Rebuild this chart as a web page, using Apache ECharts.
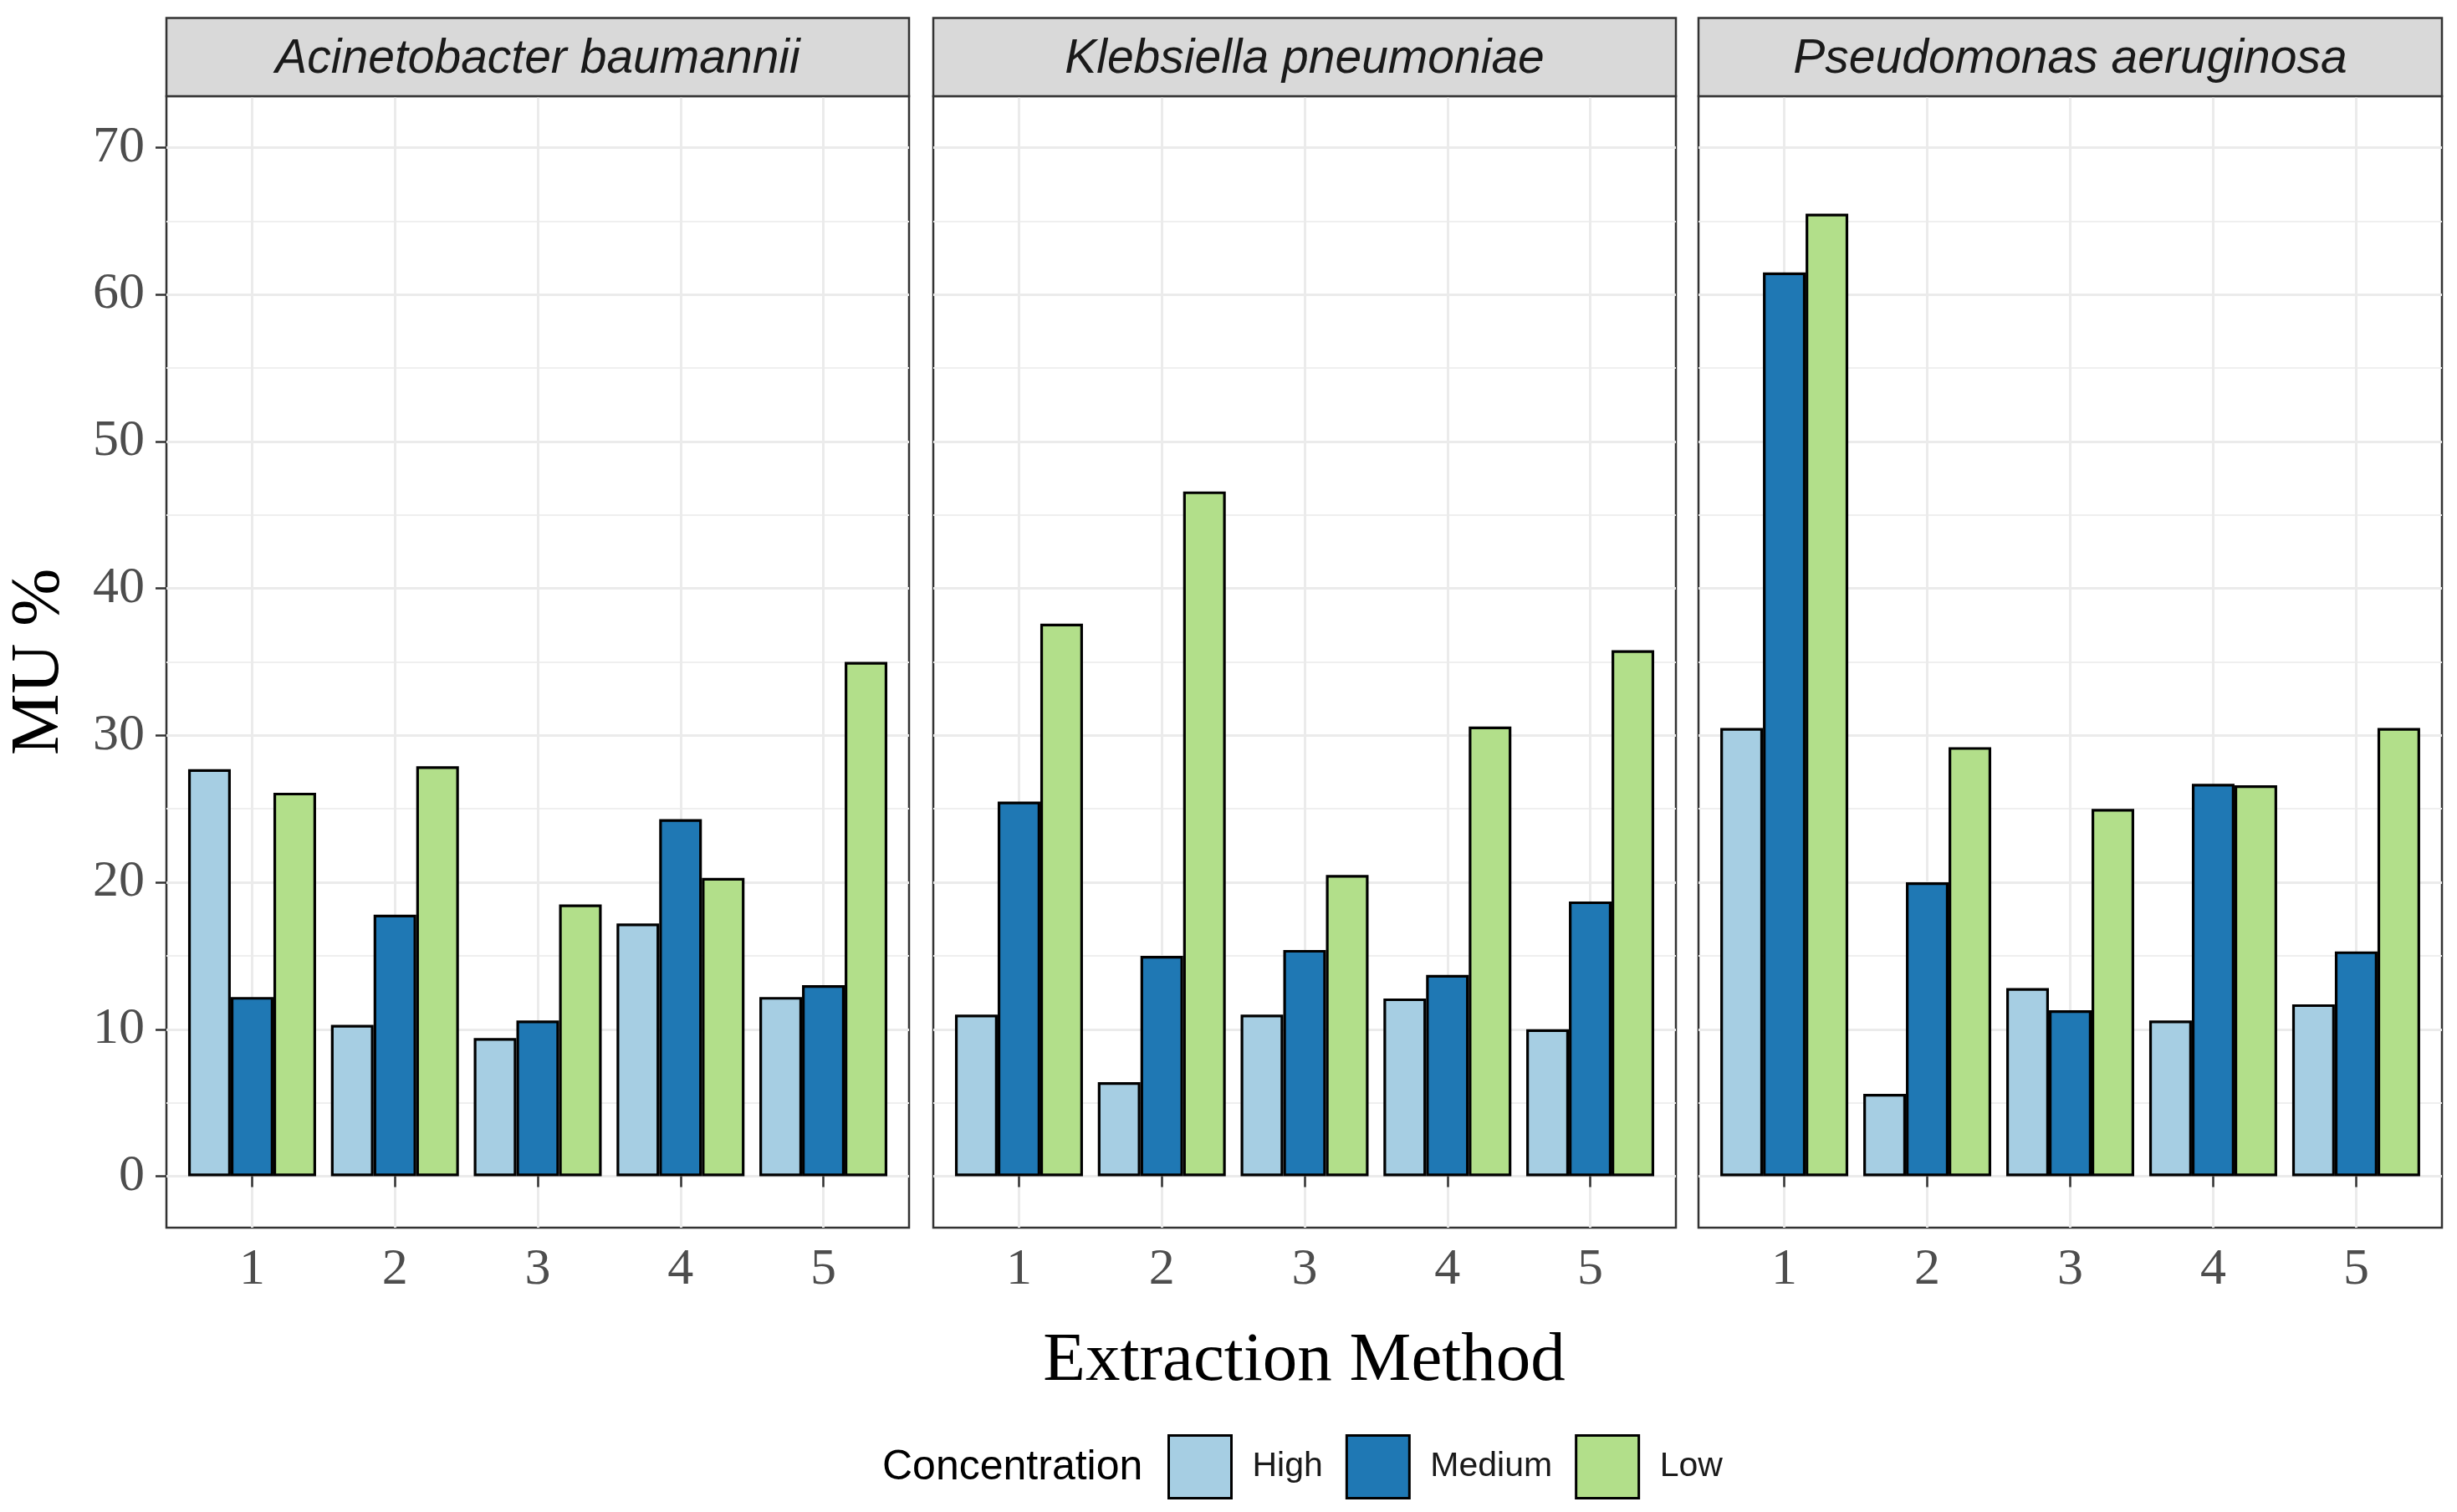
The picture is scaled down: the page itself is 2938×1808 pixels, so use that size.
<!DOCTYPE html>
<html>
<head>
<meta charset="utf-8">
<script src="https://cdn.jsdelivr.net/npm/echarts@6/dist/echarts.min.js"></script>
<style>
html,body{margin:0;padding:0;background:#fff;}
#chart{width:2938px;height:1808px;}
</style>
</head>
<body>
<div id="chart"></div>
<script>
// ---- data ----
const methods = [1, 2, 3, 4, 5];
const species = ['Acinetobacter baumannii', 'Klebsiella pneumoniae', 'Pseudomonas aeruginosa'];
const concentrations = ['High', 'Medium', 'Low'];
const yTicks = [0, 10, 20, 30, 40, 50, 60, 70];
const yMinorTicks = [5, 15, 25, 35, 45, 55, 65];

const abHigh   = [27.7, 10.3, 9.4, 17.2, 12.2];
const abMedium = [12.2, 17.8, 10.6, 24.3, 13.0];
const abLow    = [26.1, 27.9, 18.5, 20.3, 35.0];

const kpHigh   = [11.0, 6.4, 11.0, 12.1, 10.0];
const kpMedium = [25.5, 15.0, 15.4, 13.7, 18.7];
const kpLow    = [37.6, 46.6, 20.5, 30.6, 35.8];

const paHigh   = [30.5, 5.6, 12.8, 10.6, 11.7];
const paMedium = [61.5, 20.0, 11.3, 26.7, 15.3];
const paLow    = [65.5, 29.2, 25.0, 26.6, 30.5];

const valuesBySpecies = [
  [abHigh, abMedium, abLow],
  [kpHigh, kpMedium, kpLow],
  [paHigh, paMedium, paLow]
];
const colors = ['#A6CEE3', '#1F78B4', '#B2DF8A'];

// ---- layout ----
const panelLeft = [199, 1116, 2031];
const panelWidth = [888, 888, 889];
const panelTop = 115;
const panelHeight = 1353;
const stripTop = 21.5;

const serif = '"Liberation Serif", "Times New Roman", serif';
const sans = '"Liberation Sans", Arial, sans-serif';

const grids = [], xAxes = [], yAxes = [], series = [], graphics = [];

species.forEach((sp, i) => {
  grids.push({
    left: panelLeft[i], top: panelTop, width: panelWidth[i], height: panelHeight,
    show: true, borderColor: '#333333', borderWidth: 2.5, backgroundColor: 'transparent',
    containLabel: false, outerBoundsMode: 'none'
  });
  xAxes.push({
    type: 'value', gridIndex: i, min: 0.4, max: 5.6,
    axisLine: { show: false },
    axisTick: { show: true, customValues: methods, length: 13, lineStyle: { color: '#333333', width: 2.5 } },
    axisLabel: { show: true, customValues: methods, margin: 20, fontFamily: serif, fontSize: 62, color: '#4D4D4D' },
    splitLine: { show: true, lineStyle: { color: '#EBEBEB', width: 3 } }
  });
  yAxes.push({
    type: 'value', gridIndex: i, min: -3.5, max: 73.5, position: 'left',
    axisLine: { show: false },
    axisTick: { show: i === 0, customValues: yTicks, length: 13, lineStyle: { color: '#333333', width: 2.5 } },
    axisLabel: { show: i === 0, customValues: yTicks, margin: 26, fontFamily: serif, fontSize: 62, color: '#4D4D4D' },
    splitLine: { show: true, lineStyle: { color: '#EBEBEB', width: 3 } }
  });
  yAxes.push({
    type: 'value', gridIndex: i, min: -3.5, max: 73.5, position: 'right',
    axisLine: { show: false },
    axisTick: { show: false, customValues: yMinorTicks },
    axisLabel: { show: false, customValues: yMinorTicks },
    splitLine: { show: true, lineStyle: { color: '#EFEFEF', width: 1.8 } }
  });
  concentrations.forEach((c, j) => {
    series.push({
      type: 'bar', name: c, xAxisIndex: i, yAxisIndex: 2 * i,
      data: methods.map((m, k) => [m, valuesBySpecies[i][j][k]]),
      barWidth: 51, barGap: '0%',
      itemStyle: { color: colors[j], borderColor: '#000000', borderWidth: 3.2 },
      emphasis: { disabled: true }, silent: true
    });
  });
  graphics.push({
    type: 'rect', silent: true, z: 10,
    shape: { x: panelLeft[i], y: stripTop, width: panelWidth[i], height: panelTop - stripTop },
    style: { fill: '#D9D9D9', stroke: '#333333', lineWidth: 2.5 }
  });
  graphics.push({
    type: 'text', silent: true, z: 11,
    x: panelLeft[i] + panelWidth[i] / 2, y: 71,
    style: { text: sp, fontFamily: sans, fontStyle: 'italic', fontSize: 57, fill: '#1A1A1A',
             align: 'center', verticalAlign: 'middle' }
  });
});

graphics.push({
  type: 'text', silent: true,
  x: (panelLeft[0] + panelLeft[2] + panelWidth[2]) / 2, y: 1628,
  style: { text: 'Extraction Method', fontFamily: serif, fontSize: 83, fill: '#000000',
           align: 'center', verticalAlign: 'middle' }
});
graphics.push({
  type: 'text', silent: true,
  x: 47, y: panelTop + panelHeight / 2, rotation: Math.PI / 2,
  style: { text: 'MU %', fontFamily: serif, fontSize: 83, fill: '#000000',
           align: 'center', verticalAlign: 'middle' }
});
graphics.push({
  type: 'text', silent: true,
  x: 1055, y: 1755,
  style: { text: 'Concentration', fontFamily: sans, fontSize: 50, fill: '#000000',
           align: 'left', verticalAlign: 'middle' }
});

const chart = echarts.init(document.getElementById('chart'), null, { renderer: 'canvas' });
chart.setOption({
  animation: false,
  backgroundColor: '#ffffff',
  grid: grids,
  xAxis: xAxes,
  yAxis: yAxes,
  series: series,
  legend: {
    data: concentrations, left: 1391, top: 1710, orient: 'horizontal',
    itemWidth: 75, itemHeight: 75, itemGap: 27, icon: 'rect', selectedMode: false,
    itemStyle: { borderColor: '#000000', borderWidth: 3 },
    textStyle: { fontFamily: sans, fontSize: 41, color: '#1A1A1A', padding: [0, 0, 0, 20] }
  },
  graphic: graphics
});
</script>
</body>
</html>
